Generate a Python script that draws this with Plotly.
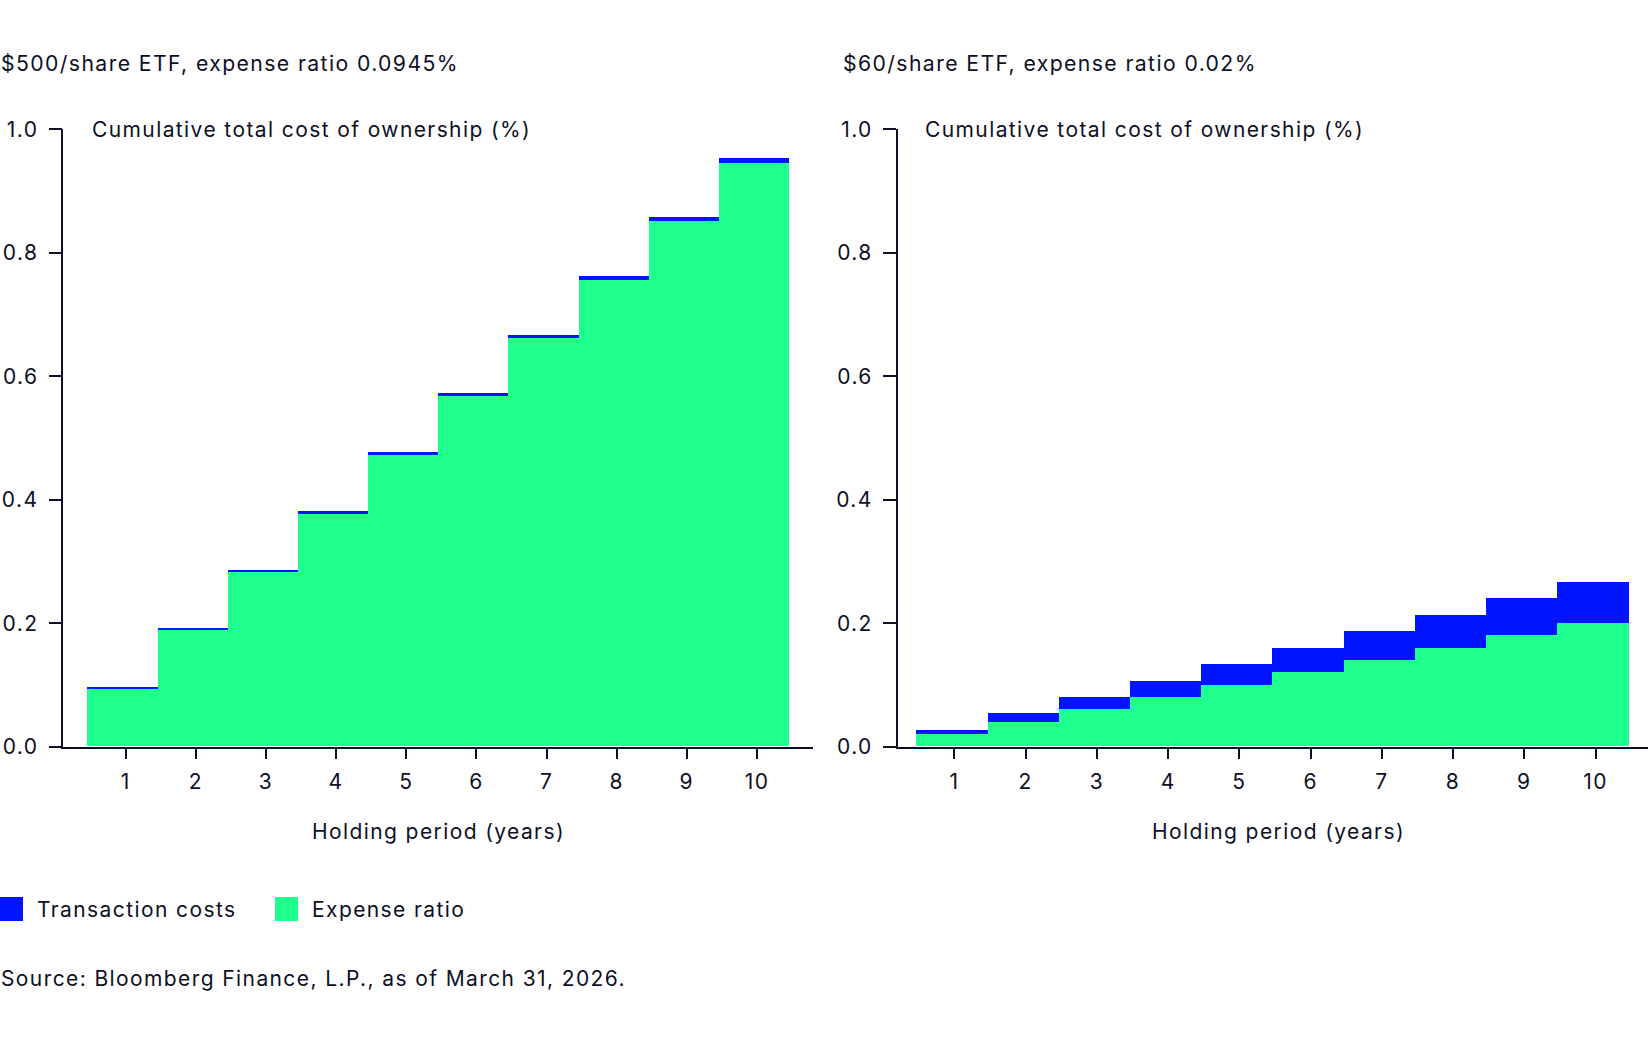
import plotly.graph_objects as go

# ---- data ----
years = [1, 2, 3, 4, 5, 6, 7, 8, 9, 10]
year_labels = ["1", "2", "3", "4", "5", "6", "7", "8", "9", "10"]

left_expense = [0.0945, 0.189, 0.2835, 0.378, 0.4725, 0.567, 0.6615, 0.756, 0.8505, 0.945]
left_transaction = [0.0008, 0.0016, 0.0024, 0.0032, 0.004, 0.0048, 0.0056, 0.0064, 0.0072, 0.008]

right_expense = [0.02, 0.04, 0.06, 0.08, 0.10, 0.12, 0.14, 0.16, 0.18, 0.20]
right_transaction = [0.0067, 0.0133, 0.02, 0.0267, 0.0333, 0.04, 0.0467, 0.0533, 0.06, 0.0667]

y_ticks = [0.0, 0.2, 0.4, 0.6, 0.8, 1.0]
y_tick_labels = ["0.0", "0.2", "0.4", "0.6", "0.8", "1.0"]

left_title = "$500/share ETF, expense ratio 0.0945%"
right_title = "$60/share ETF, expense ratio 0.02%"
y_title = "Cumulative total cost of ownership (%)"
x_title = "Holding period (years)"
series_names = ["Transaction costs", "Expense ratio"]
source_text = "Source: Bloomberg Finance, L.P., as of March 31, 2026."

# ---- style ----
BLUE = "#0014FF"
GREEN = "#1FFF8E"
INK = "#0D1026"
FONT = "Inter"
W, H = 1648, 1042
TRACK = 1.4


def sp(s):
    return '<span style="letter-spacing:%.1fpx">%s</span>' % (TRACK, s)


fig = go.Figure()
BAR_OFFSET = -0.54


def add_panel(xa, ya, expense, transaction):
    fig.add_trace(go.Bar(x=years, y=expense, marker=dict(color=GREEN, line=dict(width=0)),
                         width=1, offset=BAR_OFFSET, xaxis=xa, yaxis=ya, name=series_names[1],
                         showlegend=False, hoverinfo="skip"))
    fig.add_trace(go.Bar(x=years, y=transaction, marker=dict(color=BLUE, line=dict(width=0)),
                         width=1, offset=BAR_OFFSET, xaxis=xa, yaxis=ya, name=series_names[0],
                         showlegend=False, hoverinfo="skip"))


add_panel("x", "y", left_expense, left_transaction)
add_panel("x2", "y2", right_expense, right_transaction)

y_bottom = 1 - 746.7 / H
y_top = 1 - 129.3 / H

common_x = dict(
    tickmode="array", tickvals=years, ticktext=[sp(t) for t in year_labels],
    ticks="outside", ticklen=11, tickwidth=1.5, tickcolor=INK,
    showline=True, linecolor=INK, linewidth=1.5,
    showgrid=False, zeroline=False,
    tickfont=dict(family=FONT, size=21, color=INK),
    ticklabelstandoff=4, automargin=False,
)
common_y = dict(
    range=[0, 1], tickmode="array", tickvals=y_ticks, ticktext=[sp(t) for t in y_tick_labels],
    ticks="outside", ticklen=13, tickwidth=1.5, tickcolor=INK,
    showline=True, linecolor=INK, linewidth=1.5,
    showgrid=False, zeroline=False,
    tickfont=dict(family=FONT, size=21, color=INK),
    ticklabelstandoff=6, automargin=False,
    domain=[y_bottom, y_top],
)
cross_y = dict(
    range=[0, 1], tickmode="array", tickvals=[1.0],
    ticks="inside", ticklen=14, tickwidth=1.5, tickcolor=INK,
    showticklabels=False, showline=False, showgrid=False, zeroline=False,
)

fig.update_layout(
    width=W, height=H,
    margin=dict(l=0, r=0, t=0, b=0),
    paper_bgcolor="white", plot_bgcolor="white",
    barmode="stack", bargap=0,
    showlegend=False,
    font=dict(family=FONT, color=INK),
    xaxis=dict(domain=[63.3 / W, 812.7 / W], range=[0.112, 10.794], anchor="y", **common_x),
    yaxis=dict(anchor="x", **common_y),
    xaxis2=dict(domain=[897.7 / W, 1.0], range=[0.203, 10.737], anchor="y2", **common_x),
    yaxis2=dict(anchor="x2", **common_y),
    yaxis3=dict(overlaying="y", anchor="x", **cross_y),
    yaxis4=dict(overlaying="y2", anchor="x2", **cross_y),
)


def txt(x, y, text, size=21, xanchor="left"):
    fig.add_annotation(x=x / W, y=1 - y / H, xref="paper", yref="paper", text=sp(text),
                       showarrow=False, xanchor=xanchor, yanchor="middle",
                       font=dict(family=FONT, size=size, color=INK))


txt(-1, 63, left_title, 21.2)
txt(841, 63, right_title, 21.2)
txt(89.5, 129.5, y_title)
txt(923, 129.5, y_title)
txt(438.3, 831.5, x_title, xanchor="center")
txt(1278.5, 831.5, x_title, xanchor="center")
txt(-1, 978.5, source_text)

# legend (manual)
legend_items = [(0, series_names[0], BLUE), (275, series_names[1], GREEN)]
for lx, name, col in legend_items:
    fig.add_shape(type="rect", xref="paper", yref="paper",
                  x0=lx / W, x1=(lx + 23) / W, y0=1 - 921 / H, y1=1 - 897 / H,
                  fillcolor=col, line=dict(width=0))
    txt(lx + 35, 909, name)

fig.write_html("out.html")
